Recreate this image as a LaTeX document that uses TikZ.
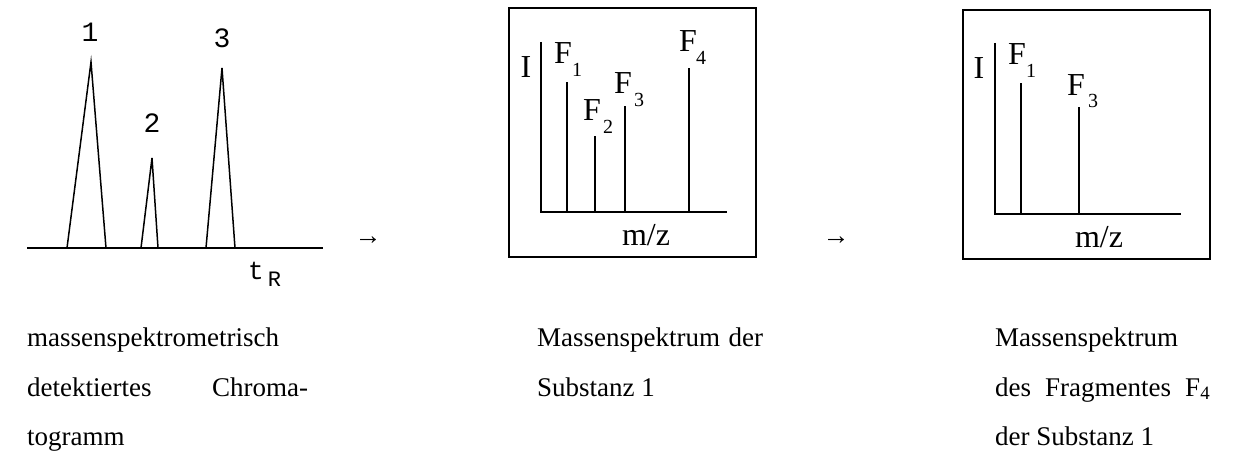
\documentclass[tikz,border=0pt]{standalone}
\usepackage{fontspec}
\setmainfont{Liberation Serif}
\newfontfamily\monofont{Liberation Mono}
\begin{document}
\begin{tikzpicture}[x=1pt,y=-1pt,
  axisline/.style={line width=1.6pt},
  peakline/.style={line width=1.5pt, line join=miter},
  boxline/.style={line width=2pt},
  barline/.style={line width=1.6pt},
  chromlbl/.style={inner sep=0pt, font=\monofont\fontsize{28}{28}\selectfont},
  speclbl/.style={inner sep=0pt, font=\fontsize{32}{32}\selectfont},
  sublbl/.style={inner sep=0pt, font=\fontsize{20}{20}\selectfont},
  txt/.style={inner sep=0pt, anchor=base west, font=\fontsize{27}{30}\selectfont},
  arr/.style={inner sep=0pt, font=\fontsize{27}{30}\selectfont}]
\useasboundingbox (0,0) rectangle (1237,462);
\fill[white] (0,0) rectangle (1237,462);

% ---------- chromatogram ----------
\coordinate (b0) at (27,248);
\coordinate (b1) at (323,248);
\draw[axisline] (b0) -- (b1);
\coordinate (p1l) at (67,248); \coordinate (p1t) at (91,62); \coordinate (p1r) at (106,248);
\coordinate (p2l) at (141,248); \coordinate (p2t) at (152,158); \coordinate (p2r) at (158,248);
\coordinate (p3l) at (206,248); \coordinate (p3t) at (222,68); \coordinate (p3r) at (235,248);
\draw[peakline] (p1l) -- (p1t) -- (p1r);
\draw[peakline] (p2l) -- (p2t) -- (p2r);
\draw[peakline] (p3l) -- (p3t) -- (p3r);
\node[chromlbl] (n1) at (90,32) {1};
\node[chromlbl] (n2) at (152,123) {2};
\node[chromlbl] (n3) at (222,38) {3};
\node[inner sep=0pt, anchor=base west] (tR) at (248,280)
  {\monofont\fontsize{26}{26}\selectfont t\hspace{4pt}\raisebox{-7pt}{\fontsize{22}{22}\selectfont R}};

% ---------- arrows ----------
\node[arr] (a1) at (368,241) {→};
\node[arr] (a2) at (836,241) {→};

% ---------- spectrum of substance 1 ----------
\node[boxline, draw, minimum width=247pt, minimum height=249pt, inner sep=0pt] (box1) at (632,132.5) {};
\coordinate (o1) at (541,212);
\coordinate (y1) at (541,42);
\coordinate (x1) at (727,212);
\draw[axisline] (y1) -- (o1) -- (x1);
\draw[barline] (567,212) -- (567,82);
\draw[barline] (595,212) -- (595,136);
\draw[barline] (625,212) -- (625,106);
\draw[barline] (689,212) -- (689,68);
\node[speclbl] (I1) at (526,67) {I};
\node[speclbl] (F11) at (563,53) {F};
\node[sublbl] (s11) at (577,70) {1};
\node[speclbl] (F12) at (592,110) {F};
\node[sublbl] (s12) at (608,127) {2};
\node[speclbl] (F13) at (623,83) {F};
\node[sublbl] (s13) at (639,100) {3};
\node[speclbl] (F14) at (688,41) {F};
\node[sublbl] (s14) at (701,58) {4};
\node[speclbl] (mz1) at (646,235) {m/z};

% ---------- spectrum of fragment ----------
\node[boxline, draw, minimum width=247pt, minimum height=249pt, inner sep=0pt] (box2) at (1086.5,134.5) {};
\coordinate (o2) at (995,214);
\coordinate (y2) at (995,43);
\coordinate (x2) at (1181,214);
\draw[axisline] (y2) -- (o2) -- (x2);
\draw[barline] (1021,214) -- (1021,83);
\draw[barline] (1079,214) -- (1079,107);
\node[speclbl] (I2) at (979,68) {I};
\node[speclbl] (F21) at (1017,54) {F};
\node[sublbl] (s21) at (1031,71) {1};
\node[speclbl] (F23) at (1076,85) {F};
\node[sublbl] (s23) at (1093,101) {3};
\node[speclbl] (mz2) at (1099,237) {m/z};

% ---------- captions ----------
\node[txt] (l1) at (27,347) {massenspektrometrisch};
\node[txt] (l2) at (27,396) {\makebox[281pt][s]{detektiertes Chroma-}};
\node[txt] (l3) at (27,445) {togramm};
\node[txt] (m1) at (537,347) {\makebox[226pt][s]{Massenspektrum der}};
\node[txt] (m2) at (537,396) {Substanz 1};
\node[txt] (r1) at (995,347) {Massenspektrum};
\node[txt] (r2) at (995,396) {\makebox[215pt][s]{des Fragmentes F\textsubscript{4}}};
\node[txt] (r3) at (995,445) {der Substanz 1};
\end{tikzpicture}
\end{document}
